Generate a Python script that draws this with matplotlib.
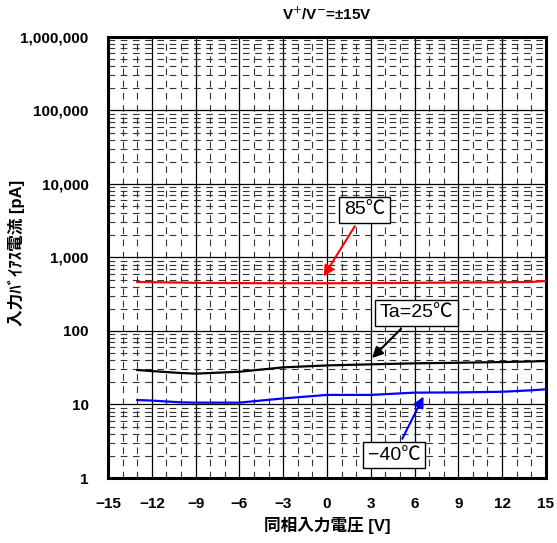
import numpy as np
import matplotlib
matplotlib.use('Agg')
import matplotlib.pyplot as plt
from matplotlib.ticker import FixedLocator, FuncFormatter, LogLocator

plt.rcParams['font.family'] = ['Liberation Sans', 'Noto Sans CJK JP', 'DejaVu Sans']

# 同相入力電圧 [V]
vcm = [-13, -12, -10, -9, -6, -3, 0, 3, 6, 9, 12, 14, 15]
# 入力バイアス電流 [pA]
ib_85 = [464, 462, 455, 452, 448, 446, 446, 448, 452, 456, 460, 465, 479]
ib_25 = [29.5, 28.5, 26.8, 26.3, 27.9, 32.0, 34.0, 35.2, 36.3, 37.0, 37.8, 38.5, 39.0]
ib_m40 = [11.5, 11.3, 10.7, 10.6, 10.6, 12.1, 13.5, 13.5, 14.5, 14.6, 14.9, 15.6, 16.1]

xticks = [-15, -12, -9, -6, -3, 0, 3, 6, 9, 12, 15]
yticks = [1, 10, 100, 1000, 10000, 100000, 1000000]

fig = plt.figure(figsize=(5.57, 5.43), dpi=100)
ax = fig.add_axes([0.194, 0.1197, 0.786, 0.8122])

ax.set_yscale('log')
ax.set_xlim(-15, 15)
ax.set_ylim(1, 1e6)

ax.plot(vcm, ib_85, color='#ff0000', lw=1.6, zorder=3)
ax.plot(vcm, ib_25, color='black', lw=1.6, zorder=3)
ax.plot(vcm, ib_m40, color='#0000ff', lw=1.6, zorder=3)

# 格子
ax.xaxis.set_major_locator(FixedLocator(xticks))
ax.xaxis.set_minor_locator(FixedLocator(np.arange(-15, 16, 1)))
ax.yaxis.set_major_locator(FixedLocator(yticks))
ax.yaxis.set_minor_locator(LogLocator(base=10, subs=np.arange(2, 10), numticks=20))
ax.yaxis.set_major_formatter(FuncFormatter(lambda v, p: f'{int(round(v)):,}'))
ax.yaxis.set_minor_formatter(FuncFormatter(lambda v, p: ''))
ax.xaxis.set_major_formatter(FuncFormatter(lambda v, p: f'{int(v)}'.replace('-', '\u2212')))

ax.grid(which='major', color='black', lw=0.9, ls='-')
ax.grid(which='minor', color='#333333', lw=0.8, ls=(0, (6, 5)))
ax.set_axisbelow(True)

ax.tick_params(which='both', length=0)
ax.tick_params(axis='x', pad=14, labelsize=11)
ax.tick_params(axis='y', pad=14, labelsize=11)
for lab in ax.get_xticklabels() + ax.get_yticklabels():
    lab.set_fontweight('bold')

for s in ax.spines.values():
    s.set_linewidth(2.2)

ax.set_xlabel('同相入力電圧 [V]', fontsize=12, fontweight='bold', labelpad=4)
ax.set_ylabel('入力ﾊﾞｲｱｽ電流 [pA]', fontsize=12, fontweight='bold')
ax.yaxis.set_label_coords(-0.19, 0.51)
ax.set_title(r'V$^{+}$/V$^{-}$=±15V', fontsize=11, fontweight='bold', pad=12)

bbox = dict(boxstyle='square,pad=0.25', fc='white', ec='black', lw=1.0)
ax.annotate('85℃', xy=(-0.34, 510), xytext=(2.6, 4430), fontsize=14,
            ha='center', va='center', bbox=bbox, zorder=5,
            arrowprops=dict(arrowstyle='-|>', color='#ff0000', lw=1.5, mutation_scale=16))
ax.annotate('Ta=25℃', xy=(2.95, 40.3), xytext=(6.16, 176), fontsize=14,
            ha='center', va='center', bbox=bbox, zorder=5,
            arrowprops=dict(arrowstyle='-|>', color='black', lw=1.5, mutation_scale=16))
ax.annotate('\u221240℃', xy=(6.7, 13.9), xytext=(4.6, 2.05), fontsize=14,
            ha='center', va='center', bbox=bbox, zorder=5,
            arrowprops=dict(arrowstyle='-|>', color='#0000ff', lw=1.5, mutation_scale=16))

fig.savefig('out.png', dpi=100)
